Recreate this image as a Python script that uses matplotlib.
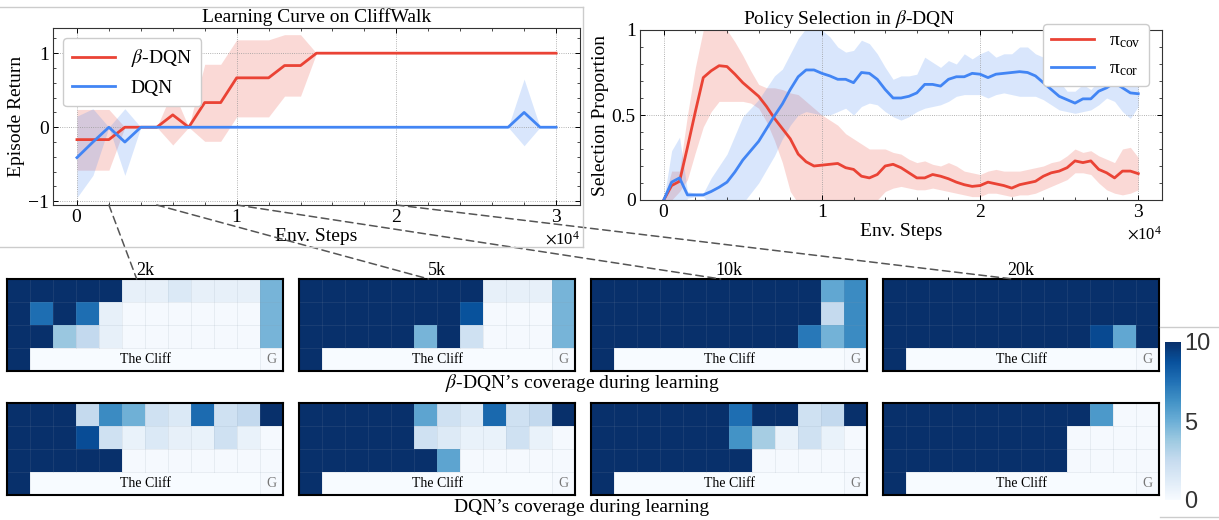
import numpy as np
import matplotlib
matplotlib.use('Agg')
import matplotlib.pyplot as plt
from matplotlib.patches import ConnectionPatch
from matplotlib.lines import Line2D
from matplotlib.ticker import MultipleLocator, ScalarFormatter

# ---- learning curve (every 1000 env steps) ----
lc_steps = [0, 1000, 2000, 3000, 4000, 5000, 6000, 7000, 8000, 9000, 10000,
            11000, 12000, 13000, 14000, 15000, 16000, 17000, 18000, 19000, 20000,
            21000, 22000, 23000, 24000, 25000, 26000, 27000, 28000, 29000, 30000]
beta_ret = [-0.167, -0.167, -0.167, 0, 0, 0, 0.167, 0, 0.333, 0.333, 0.667,
            0.667, 0.667, 0.833, 0.833, 1, 1, 1, 1, 1, 1,
            1, 1, 1, 1, 1, 1, 1, 1, 1, 1]
beta_lo = [-0.58, -0.58, -0.58, 0, 0, 0, -0.24, 0, -0.19, -0.19, 0.14,
           0.14, 0.14, 0.42, 0.42, 1, 1, 1, 1, 1, 1,
           1, 1, 1, 1, 1, 1, 1, 1, 1, 1]
beta_hi = [0.24, 0.24, 0.24, 0, 0, 0, 0.5, 0, 0.85, 0.85, 1.18,
           1.18, 1.18, 1.25, 1.25, 1, 1, 1, 1, 1, 1,
           1, 1, 1, 1, 1, 1, 1, 1, 1, 1]
dqn_ret = [-0.41, -0.2, 0, -0.2, 0, 0, 0, 0, 0, 0, 0,
           0, 0, 0, 0, 0, 0, 0, 0, 0, 0,
           0, 0, 0, 0, 0, 0, 0, 0.2, 0, 0]
dqn_lo = [-0.95, -0.65, 0, -0.65, 0, 0, 0, 0, 0, 0, 0,
          0, 0, 0, 0, 0, 0, 0, 0, 0, 0,
          0, 0, 0, 0, 0, 0, 0, -0.25, 0, 0]
dqn_hi = [0.15, 0.25, 0, 0.25, 0, 0, 0, 0, 0, 0, 0,
          0, 0, 0, 0, 0, 0, 0, 0, 0, 0,
          0, 0, 0, 0, 0, 0, 0, 0.65, 0, 0]

# ---- policy selection (every 500 env steps) ----
ps_steps = np.arange(0, 30001, 500)
cov_mean = [0, 0.085, 0.11, 0.31, 0.52, 0.72, 0.76, 0.79, 0.785, 0.74,
            0.69, 0.65, 0.61, 0.55, 0.48, 0.42, 0.36, 0.27, 0.225, 0.20,
            0.205, 0.21, 0.215, 0.19, 0.18, 0.14, 0.13, 0.15, 0.20, 0.21,
            0.19, 0.16, 0.13, 0.13, 0.15, 0.14, 0.125, 0.105, 0.09, 0.08,
            0.085, 0.105, 0.095, 0.085, 0.07, 0.09, 0.10, 0.11, 0.14, 0.16,
            0.17, 0.19, 0.23, 0.22, 0.23, 0.18, 0.16, 0.13, 0.17, 0.17, 0.155]
cov_lo = [0, 0, 0.05, 0.12, 0.28, 0.43, 0.52, 0.58, 0.58, 0.58,
          0.58, 0.57, 0.54, 0.46, 0.35, 0.22, 0.05, -0.02, -0.05, -0.05,
          -0.05, -0.04, -0.03, -0.03, -0.02, -0.01, -0.01, 0.0, 0.05, 0.07,
          0.08, 0.07, 0.06, 0.06, 0.07, 0.06, 0.05, 0.04, 0.03, 0.02,
          0.02, 0.04, 0.04, 0.03, 0.02, 0.03, 0.03, 0.04, 0.06, 0.08,
          0.10, 0.12, 0.16, 0.16, 0.15, 0.10, 0.06, 0.04, 0.03, 0.04, 0.06]
cov_hi = [0, 0.17, 0.17, 0.5, 0.78, 1.0, 1.05, 1.05, 1.0, 0.93,
          0.85, 0.76, 0.68, 0.66, 0.66, 0.65, 0.63, 0.62, 0.58, 0.54,
          0.50, 0.47, 0.44, 0.39, 0.36, 0.33, 0.30, 0.30, 0.30, 0.28,
          0.27, 0.24, 0.22, 0.23, 0.21, 0.20, 0.22, 0.20, 0.17, 0.16,
          0.15, 0.17, 0.18, 0.17, 0.17, 0.17, 0.18, 0.19, 0.20, 0.22,
          0.23, 0.26, 0.30, 0.28, 0.29, 0.26, 0.24, 0.22, 0.30, 0.31, 0.25]
cor_mean = [0, 0.105, 0.13, 0.03, 0.03, 0.03, 0.05, 0.075, 0.105, 0.165,
            0.235, 0.29, 0.345, 0.42, 0.495, 0.565, 0.65, 0.725, 0.765, 0.765,
            0.745, 0.73, 0.71, 0.71, 0.69, 0.75, 0.745, 0.71, 0.65, 0.60,
            0.60, 0.61, 0.63, 0.68, 0.68, 0.67, 0.71, 0.725, 0.725, 0.745,
            0.74, 0.72, 0.74, 0.745, 0.75, 0.755, 0.75, 0.73, 0.69, 0.65,
            0.61, 0.59, 0.57, 0.595, 0.595, 0.64, 0.66, 0.69, 0.66, 0.63, 0.625]
cor_lo = [0, -0.08, -0.1, 0.01, 0.02, 0.02, -0.03, -0.05, -0.06, -0.05,
          -0.02, 0.04, 0.10, 0.18, 0.26, 0.36, 0.44, 0.50, 0.52, 0.51,
          0.50, 0.50, 0.52, 0.54, 0.50, 0.55, 0.57, 0.56, 0.52, 0.49,
          0.47, 0.49, 0.52, 0.54, 0.55, 0.56, 0.58, 0.61, 0.62, 0.62,
          0.62, 0.60, 0.62, 0.63, 0.62, 0.61, 0.61, 0.61, 0.59, 0.56,
          0.53, 0.52, 0.51, 0.52, 0.53, 0.56, 0.60, 0.58, 0.52, 0.48, 0.55]
cor_hi = [0, 0.29, 0.37, 0.05, 0.04, 0.04, 0.13, 0.2, 0.27, 0.38,
          0.49, 0.54, 0.59, 0.66, 0.73, 0.77, 0.86, 0.95, 1.01, 1.02,
          1.0, 0.96, 0.90, 0.87, 0.88, 0.94, 0.92, 0.86, 0.78, 0.71,
          0.73, 0.73, 0.74, 0.84, 0.81, 0.78, 0.82, 0.80, 0.86, 0.83,
          0.86, 0.88, 0.84, 0.86, 0.86, 0.90, 0.90, 0.86, 0.84, 0.76,
          0.70, 0.64, 0.64, 0.68, 0.65, 0.70, 0.72, 0.78, 0.79, 0.73, 0.70]

# ---- coverage grids (4 x 12 CliffWalk, visit counts clipped at 10) ----
snap_labels = ['2k', '5k', '10k', '20k']
snap_steps = [2000, 5000, 10000, 20000]
cliff_row = [10, 0, 0, 0, 0, 0, 0, 0, 0, 0, 0, 0.1]
beta_2k = [[10, 10, 10, 10, 10, 0.8, 0.8, 1.4, 0.8, 0.8, 0.8, 4.7],
           [10, 7.6, 10, 7.6, 0.8, 0.1, 0.1, 0.1, 0.1, 0.1, 0.1, 4.7],
           [10, 10, 3.85, 2.6, 0.8, 0.1, 0.1, 0.1, 0.1, 0.1, 0.1, 4.7],
           cliff_row]
beta_5k = [[10, 10, 10, 10, 10, 10, 10, 10, 0.8, 0.8, 0.8, 4.7],
           [10, 10, 10, 10, 10, 10, 10, 8.7, 0.1, 0.1, 0.1, 4.7],
           [10, 10, 10, 10, 10, 4.7, 10, 2.0, 0.1, 0.1, 0.1, 4.7],
           cliff_row]
beta_10k = [[10, 10, 10, 10, 10, 10, 10, 10, 10, 10, 5.3, 6.5],
            [10, 10, 10, 10, 10, 10, 10, 10, 10, 10, 2.5, 6.5],
            [10, 10, 10, 10, 10, 10, 10, 10, 10, 7.2, 4.8, 6.5],
            cliff_row]
beta_20k = [[10, 10, 10, 10, 10, 10, 10, 10, 10, 10, 10, 10],
            [10, 10, 10, 10, 10, 10, 10, 10, 10, 10, 10, 10],
            [10, 10, 10, 10, 10, 10, 10, 10, 10, 9.0, 5.3, 10],
            cliff_row]
dqn_2k = [[10, 10, 10, 2.5, 6.5, 4.9, 2.0, 1.4, 7.7, 2.0, 2.6, 10],
          [10, 10, 10, 8.9, 2.0, 0.7, 1.4, 0.8, 0.7, 2.0, 0.7, 0.1],
          [10, 10, 10, 10, 10, 0.1, 0.1, 0.1, 0.1, 0.1, 0.1, 0.1],
          cliff_row]
dqn_5k = [[10, 10, 10, 10, 10, 5.4, 2.0, 1.4, 7.8, 2.0, 2.6, 10],
          [10, 10, 10, 10, 10, 2.0, 1.3, 0.7, 0.7, 2.0, 0.7, 0.1],
          [10, 10, 10, 10, 10, 10, 5.4, 0.1, 0.1, 0.1, 0.1, 0.1],
          cliff_row]
dqn_10k = [[10, 10, 10, 10, 10, 10, 7.6, 10, 10, 2.0, 2.6, 10],
           [10, 10, 10, 10, 10, 10, 6.2, 3.5, 0.7, 2.0, 0.7, 0.1],
           [10, 10, 10, 10, 10, 10, 10, 0.1, 0.1, 0.1, 0.1, 0.1],
           cliff_row]
dqn_20k = [[10, 10, 10, 10, 10, 10, 10, 10, 10, 5.9, 0.1, 0.1],
           [10, 10, 10, 10, 10, 10, 10, 10, 0.1, 0.1, 0.1, 0.1],
           [10, 10, 10, 10, 10, 10, 10, 10, 0.1, 0.1, 0.1, 0.1],
           cliff_row]

RED = '#EA4335'
BLUE = '#4285F4'
W, H = 1219, 520

plt.rcParams.update({
    'font.family': 'serif',
    'font.serif': ['Liberation Serif', 'DejaVu Serif'],
    'mathtext.fontset': 'stix',
    'xtick.direction': 'in', 'ytick.direction': 'in',
    'xtick.top': True, 'ytick.right': True,
    'axes.linewidth': 0.8,
    'axes.edgecolor': '#333333',
})


def box(x0, y0, x1, y1):
    # pixel box (top-left origin) -> figure fraction
    return [x0 / W, 1 - y1 / H, (x1 - x0) / W, (y1 - y0) / H]


def style_line_axes(ax):
    ax.grid(True, which='major', ls=':', color='#999999', lw=0.6)
    ax.tick_params(which='major', labelsize=14, length=3.5, width=0.7, pad=3)
    ax.tick_params(which='minor', length=2, width=0.5)
    fmt = ScalarFormatter(useMathText=True)
    fmt.set_powerlimits((0, 0))
    ax.xaxis.set_major_formatter(fmt)
    ax.xaxis.get_offset_text().set_fontsize(12)
    ax.set_xticks([0, 10000, 20000, 30000])
    ax.xaxis.set_minor_locator(MultipleLocator(2000))
    ax.set_xlim(-1500, 31500)
    ax.set_xlabel('Env. Steps', fontsize=14, labelpad=1)


fig = plt.figure(figsize=(12.19, 5.20), dpi=100)

# left: learning curve
ax1 = fig.add_axes(box(53, 28, 580, 205))
ax1.fill_between(lc_steps, beta_lo, beta_hi, color=RED, alpha=0.2, lw=0)
ax1.fill_between(lc_steps, dqn_lo, dqn_hi, color=BLUE, alpha=0.2, lw=0)
ax1.plot(lc_steps, beta_ret, color=RED, lw=2, label=r'$\beta$-DQN')
ax1.plot(lc_steps, dqn_ret, color=BLUE, lw=2, label='DQN')
style_line_axes(ax1)
ax1.set_ylim(-1.05, 1.34)
ax1.set_yticks([-1, 0, 1])
ax1.yaxis.set_minor_locator(MultipleLocator(0.2))
ax1.set_ylabel('Episode Return', fontsize=14, labelpad=2)
ax1.set_title('Learning Curve on CliffWalk', fontsize=14, pad=4)
ax1.legend(loc='upper left', fontsize=14, fancybox=True, framealpha=1,
           edgecolor='#cccccc', handlelength=2.2, borderpad=0.5)

# right: policy selection
ax2 = fig.add_axes(box(640, 30, 1162, 200))
ax2.fill_between(ps_steps, cov_lo, cov_hi, color=RED, alpha=0.2, lw=0)
ax2.fill_between(ps_steps, cor_lo, cor_hi, color=BLUE, alpha=0.2, lw=0)
ax2.plot(ps_steps, cov_mean, color=RED, lw=2, label=r'$\mathregular{\pi_{cov}}$')
ax2.plot(ps_steps, cor_mean, color=BLUE, lw=2, label=r'$\mathregular{\pi_{cor}}$')
style_line_axes(ax2)
ax2.set_ylim(0, 1)
ax2.set_yticks([0, 0.5, 1])
ax2.set_yticklabels(['0', '0.5', '1'])
ax2.yaxis.set_minor_locator(MultipleLocator(0.1))
ax2.set_ylabel('Selection Proportion', fontsize=14, labelpad=2)
ax2.set_title(r'Policy Selection in $\beta$-DQN', fontsize=14, pad=4, x=0.40)
ax2.legend(loc='upper right', bbox_to_anchor=(0.975, 1.035), borderaxespad=0,
           fontsize=14, fancybox=True, framealpha=1, edgecolor='#cccccc',
           handlelength=2.2)

# coverage heatmaps
grids = [[beta_2k, beta_5k, beta_10k, beta_20k],
         [dqn_2k, dqn_5k, dqn_10k, dqn_20k]]
col_x = [7, 299, 591, 883]
row_y = [279, 403]
im = None
top_axes = []
for r, row in enumerate(grids):
    for c, grid in enumerate(row):
        x0, y0 = col_x[c], row_y[r]
        ax = fig.add_axes(box(x0, y0, x0 + 276, y0 + 92))
        im = ax.imshow(np.array(grid), cmap='Blues', vmin=0, vmax=10,
                       interpolation='nearest', aspect='auto')
        gl = dict(color='#8899aa', alpha=0.16, lw=0.6)
        for yy in [0.5, 1.5, 2.5]:
            ax.plot([-0.5, 11.5], [yy, yy], **gl)
        for xx in np.arange(0.5, 11, 1):
            top = 3.5 if xx in (0.5, 10.5) else 2.5
            ax.plot([xx, xx], [-0.5, top], **gl)
        ax.text(5.5, 3, 'The Cliff', ha='center', va='center', fontsize=10)
        ax.text(11, 3, 'G', ha='center', va='center', fontsize=10, color='#777777')
        ax.set_xlim(-0.5, 11.5)
        ax.set_ylim(3.5, -0.5)
        ax.set_xticks([])
        ax.set_yticks([])
        ax.minorticks_off()
        for s in ax.spines.values():
            s.set_color('black')
            s.set_linewidth(1.5)
        if r == 0:
            ax.set_title(snap_labels[c], fontsize=13, pad=3)
            top_axes.append(ax)

fig.text(582 / W, 1 - 383 / H, r"$\beta$-DQN’s coverage during learning",
         ha='center', va='center', fontsize=14)
fig.text(582 / W, 1 - 508 / H, "DQN’s coverage during learning",
         ha='center', va='center', fontsize=14)

# colorbar
cax = fig.add_axes(box(1165, 342, 1181, 500))
cb = fig.colorbar(im, cax=cax, ticks=[0, 5, 10])
cb.outline.set_visible(False)
cax.minorticks_off()
cax.tick_params(length=0, labelsize=17, pad=2, right=True, left=False)
for t in cax.get_yticklabels():
    t.set_family('Liberation Sans')
    t.set_color('#333333')

# zoom connectors from the learning curve to the snapshots
for xs, hax in zip(snap_steps, top_axes):
    con = ConnectionPatch(xyA=(xs, -1.05), coordsA='data', axesA=ax1,
                          xyB=(0.47, 1.0), coordsB='axes fraction', axesB=hax,
                          ls=(0, (5, 3)), color='#555555', lw=1.1)
    fig.add_artist(con)

# light panel frames
frame = dict(transform=fig.transFigure, color='#cccccc', lw=1)
fig.add_artist(Line2D([0, 583 / W], [1 - 7 / H, 1 - 7 / H], **frame))
fig.add_artist(Line2D([0, 583 / W], [1 - 247 / H, 1 - 247 / H], **frame))
fig.add_artist(Line2D([583 / W, 583 / W], [1 - 7 / H, 1 - 247 / H], **frame))
fig.add_artist(Line2D([1160 / W, 1], [1 - 327 / H, 1 - 327 / H], **frame))
fig.add_artist(Line2D([1160 / W, 1], [1 - 517 / H, 1 - 517 / H], **frame))

fig.savefig('out.png', dpi=100)
